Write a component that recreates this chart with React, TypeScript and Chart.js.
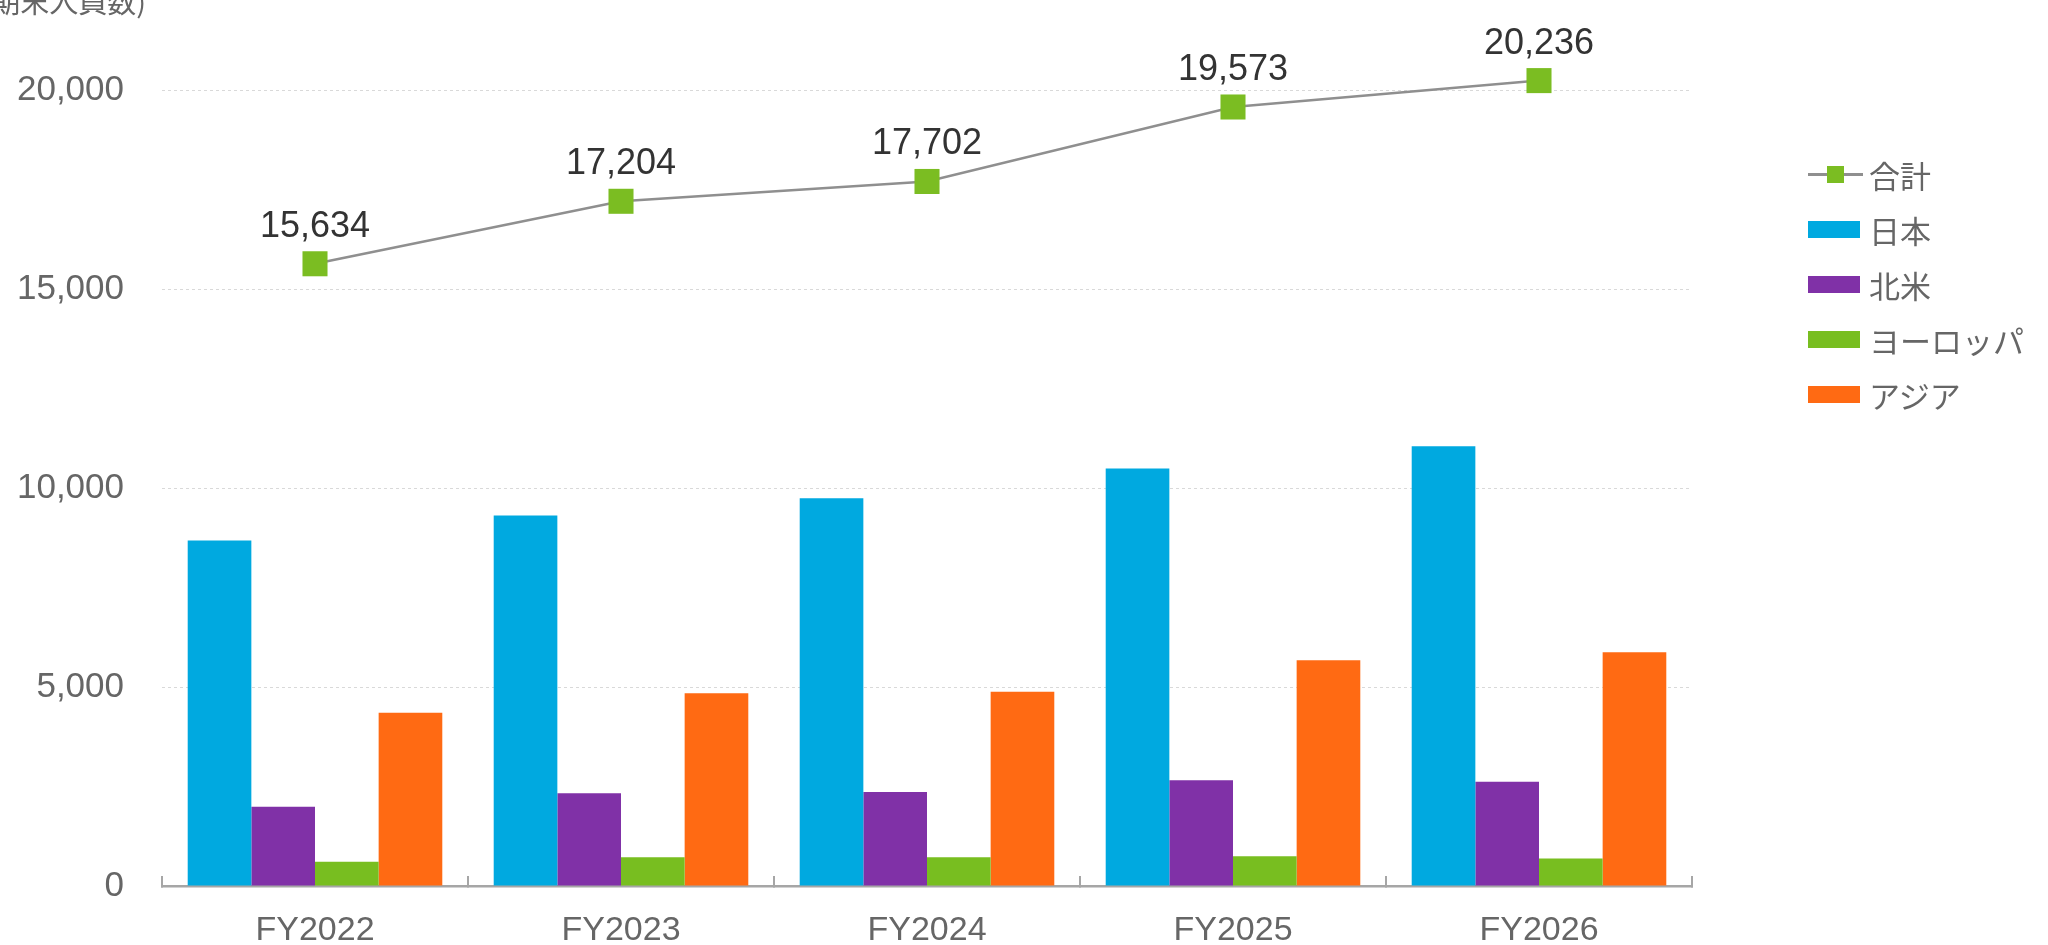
import React, { useEffect, useRef } from 'react';
import { Chart, registerables } from 'chart.js';

Chart.register(...registerables);

const categories = ['FY2022', 'FY2023', 'FY2024', 'FY2025', 'FY2026'];
const totalValues = [15634, 17204, 17702, 19573, 20236];
const japanValues = [8680, 9310, 9740, 10490, 11050];
const northAmericaValues = [1990, 2330, 2360, 2660, 2620];
const europeValues = [610, 720, 720, 750, 690];
const asiaValues = [4354, 4844, 4882, 5673, 5876];

const seriesLabels = ['合計', '日本', '北米', 'ヨーロッパ', 'アジア'];
const yAxisTitle = '(期末人員数)';

const LINE_GREY = '#8f8f8f';
const TOTAL_GREEN = '#7bbd22';
const BLUE = '#00a9e0';
const PURPLE = '#8031a7';
const GREEN = '#78be20';
const ORANGE = '#ff6a13';

const LATIN = '"Liberation Sans", Arial, "Noto Sans CJK JP", sans-serif';
const CJK = '"Noto Sans CJK JP", "Liberation Sans", sans-serif';

const fmt = (v: number) => Number(v).toLocaleString('en-US');

const overlayText = {
  id: 'overlayText',
  afterDatasetsDraw(chart: any) {
    const ctx = chart.ctx;
    const meta = chart.getDatasetMeta(0);
    ctx.save();
    ctx.font = `36px ${LATIN}`;
    ctx.fillStyle = '#333333';
    ctx.textAlign = 'center';
    ctx.textBaseline = 'alphabetic';
    meta.data.forEach((pt: any, i: number) => {
      ctx.fillText(fmt(totalValues[i]), pt.x, pt.y - 27);
    });
    ctx.font = `29px ${CJK}`;
    ctx.fillStyle = '#666666';
    ctx.textAlign = 'right';
    ctx.fillText(yAxisTitle, 146, 13);
    ctx.restore();
  },
};

const legendColors = [TOTAL_GREEN, BLUE, PURPLE, GREEN, ORANGE];

export default function App() {
  const canvasRef = useRef<HTMLCanvasElement | null>(null);

  useEffect(() => {
    if (!canvasRef.current) return;
    const chart = new Chart(canvasRef.current, {
      type: 'bar',
      data: {
        labels: categories,
        datasets: [
          {
            type: 'line',
            label: seriesLabels[0],
            data: totalValues,
            borderColor: LINE_GREY,
            borderWidth: 2.5,
            backgroundColor: TOTAL_GREEN,
            pointStyle: 'rect',
            pointRadius: 17.7,
            pointHoverRadius: 17.7,
            pointBackgroundColor: TOTAL_GREEN,
            pointBorderColor: TOTAL_GREEN,
            pointBorderWidth: 0,
            clip: false,
            tension: 0,
          } as any,
          { label: seriesLabels[1], data: japanValues, backgroundColor: BLUE, borderWidth: 0 },
          { label: seriesLabels[2], data: northAmericaValues, backgroundColor: PURPLE, borderWidth: 0 },
          { label: seriesLabels[3], data: europeValues, backgroundColor: GREEN, borderWidth: 0 },
          { label: seriesLabels[4], data: asiaValues, backgroundColor: ORANGE, borderWidth: 0 },
        ],
      },
      options: {
        animation: false,
        responsive: true,
        maintainAspectRatio: false,
        datasets: { bar: { categoryPercentage: 0.832, barPercentage: 1.0 } },
        layout: { padding: { top: 90, right: 356, left: 0, bottom: 0 } },
        plugins: { legend: { display: false }, tooltip: { enabled: false } },
        scales: {
          x: {
            offset: true,
            grid: {
              offset: true,
              drawOnChartArea: false,
              drawTicks: true,
              tickLength: -10,
              color: '#a6a6a6',
              lineWidth: 2,
            },
            border: { display: true, color: '#a6a6a6', width: 2.5 },
            ticks: { color: '#666666', font: { family: LATIN, size: 34 }, padding: 34 },
            afterFit: (s: any) => {
              s.height = 59;
            },
          },
          y: {
            min: 0,
            max: 20000,
            ticks: {
              stepSize: 5000,
              color: '#666666',
              font: { family: LATIN, size: 35 },
              padding: 38,
              callback: (v: any) => fmt(v),
            },
            grid: { color: '#d9d9d9', drawTicks: false, lineWidth: 1 },
            border: { display: false, dash: [3, 3] },
            afterFit: (s: any) => {
              s.width = 162;
            },
          },
        },
      },
      plugins: [overlayText],
    });
    return () => chart.destroy();
  }, []);

  return (
    <div style={{ position: 'fixed', left: 0, top: 0, width: 2048, height: 945, background: '#fff' }}>
      <canvas ref={canvasRef} />
      <div style={{ position: 'absolute', left: 1808, top: 147, fontFamily: CJK, fontSize: 31, color: '#666666' }}>
        {seriesLabels.map((lab, i) => (
          <div key={lab} style={{ height: 55, display: 'flex', alignItems: 'center' }}>
            <div style={{ width: 55, height: 17, position: 'relative' }}>
              {i === 0 ? (
                <>
                  <div style={{ position: 'absolute', left: 0, top: 7, width: 55, height: 3, background: LINE_GREY }} />
                  <div style={{ position: 'absolute', left: 19, top: 0, width: 17, height: 17, background: legendColors[0] }} />
                </>
              ) : (
                <div style={{ position: 'absolute', left: 0, top: 0, width: 52, height: 17, background: legendColors[i] }} />
              )}
            </div>
            <span style={{ marginLeft: 6, lineHeight: '55px', whiteSpace: 'nowrap' }}>{lab}</span>
          </div>
        ))}
      </div>
    </div>
  );
}
